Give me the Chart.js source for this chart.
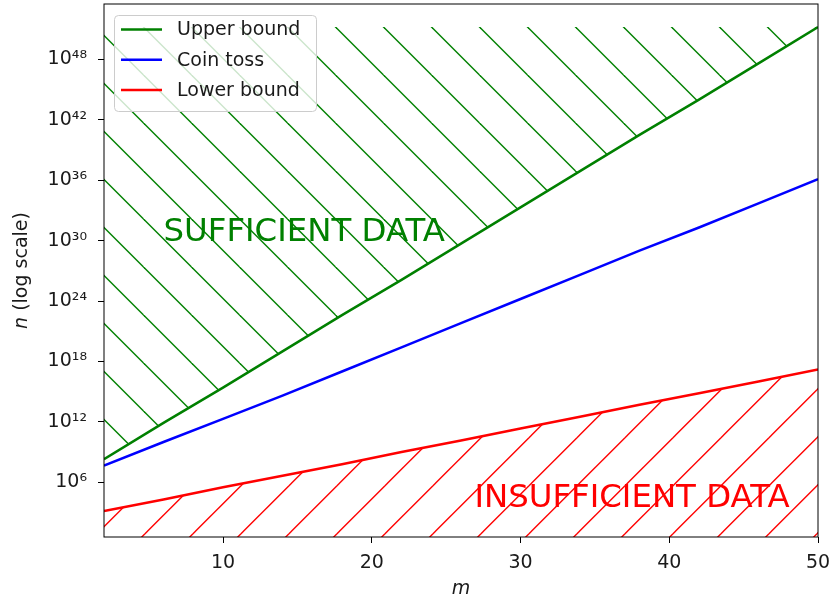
<!DOCTYPE html>
<html>
<head>
<meta charset="utf-8">
<script src="https://cdn.jsdelivr.net/npm/chart.js@4.4.1/dist/chart.umd.min.js"></script>
<style>
  html, body { margin: 0; padding: 0; background: #fff; }
  canvas { display: block; }
</style>
</head>
<body>
<canvas id="chart" width="829" height="600"></canvas>
<script>
const mValues = [2, 6, 10, 14, 18, 22, 26, 30, 34, 38, 42, 46, 50];
// exponents of n (n = 10^value)
const upperExp = [8.3, 11.9, 15.4, 19.0, 22.6, 26.1, 29.7, 33.3, 36.9, 40.5, 44.0, 47.6, 51.2];
const coinExp  = [7.65, 10.0, 12.3, 14.6, 17.0, 19.4, 21.8, 24.2, 26.6, 29.0, 31.3, 33.7, 36.1];
const lowerExp = [3.15, 4.3, 5.5, 6.65, 7.8, 9.0, 10.15, 11.35, 12.5, 13.7, 14.85, 16.0, 17.2];

const seriesLabels = ['Upper bound', 'Coin toss', 'Lower bound'];
const seriesColors = ['#008000', '#0000ff', '#ff0000'];

// tick labels
const xTicks = [10, 20, 30, 40, 50];
const yTickExps = [6, 12, 18, 24, 30, 36, 42, 48];

// region labels
const regionLabels = ['SUFFICIENT DATA', 'INSUFFICIENT DATA'];

const canvas = document.getElementById('chart');
const ctx = canvas.getContext('2d');

// hochgestellte Ziffern für die Log-Achse
const supDigits = { '0': '⁰', '1': '¹', '2': '²', '3': '³', '4': '⁴', '5': '⁵', '6': '⁶', '7': '⁷', '8': '⁸', '9': '⁹', '-': '⁻' };
function sup(n) {
    return String(n).split('').map(ch => supDigits[ch] || ch).join('');
}

// Schraffur als Canvas-Pattern (dir 'back' = \\ , 'fwd' = /)
function makeHatch(color, dir, offset) {
    const tile = document.createElement('canvas');
    tile.width = 48;
    tile.height = 48;
    const g = tile.getContext('2d');
    g.strokeStyle = color;
    g.lineWidth = 1.4;
    for (let k = -1; k <= 2; k++) {
        const c0 = offset + 48 * k;
        g.beginPath();
        if (dir === 'back') {
            g.moveTo(c0 - 6, -6);
            g.lineTo(c0 + 54, 54);
        } else {
            g.moveTo(c0 + 6, -6);
            g.lineTo(c0 - 54, 54);
        }
        g.stroke();
    }
    return ctx.createPattern(tile, 'repeat');
}

const greenHatch = makeHatch(seriesColors[0], 'back', 20.5);
const redHatch = makeHatch(seriesColors[2], 'fwd', 6.7);

function toPoints(exps) {
    return mValues.map((m, i) => ({ x: m, y: Math.pow(10, exps[i]) }));
}

// Rahmen, Texte, Legende und y-Titel
const extrasPlugin = {
    id: 'extras',
    afterDatasetsDraw(chart) {
        const c = chart.ctx;
        const area = chart.chartArea;
        const xs = chart.scales.x;
        const ys = chart.scales.y;

        // region labels
        c.save();
        c.font = '32.4px "DejaVu Sans"';
        c.textAlign = 'left';
        c.textBaseline = 'alphabetic';
        c.fillStyle = seriesColors[0];
        c.fillText(regionLabels[0], xs.getPixelForValue(6), ys.getPixelForValue(1e30));
        c.fillStyle = seriesColors[2];
        c.fillText(regionLabels[1], xs.getPixelForValue(26.9), ys.getPixelForValue(Math.pow(10, 3.5)));
        c.restore();

        // frame
        c.save();
        c.strokeStyle = '#000';
        c.lineWidth = 1;
        c.strokeRect(area.left, area.top, area.right - area.left, area.bottom - area.top);
        c.restore();

        // legend
        c.save();
        const lx = 114, ly = 15, lw = 202, lh = 96;
        c.beginPath();
        c.roundRect(lx + 0.5, ly + 0.5, lw, lh, 4);
        c.fillStyle = 'rgba(255,255,255,0.8)';
        c.fill();
        c.strokeStyle = '#cccccc';
        c.lineWidth = 1;
        c.stroke();
        c.font = '19px "DejaVu Sans"';
        c.textBaseline = 'middle';
        chart.data.datasets.forEach((ds, i) => {
            const yy = 29.5 + 30.3 * i;
            c.beginPath();
            c.strokeStyle = ds.borderColor;
            c.lineWidth = 2.5;
            c.moveTo(121, yy);
            c.lineTo(162, yy);
            c.stroke();
            c.fillStyle = '#1a1a1a';
            c.fillText(ds.label, 177, yy + 1);
        });
        c.restore();
    },
    afterDraw(chart) {
        // y axis title: italic n + (log scale)
        const c = chart.ctx;
        const area = chart.chartArea;
        c.save();
        c.translate(22, (area.top + area.bottom) / 2);
        c.rotate(-Math.PI / 2);
        c.textBaseline = 'middle';
        c.fillStyle = '#1a1a1a';
        c.font = 'italic 19px "DejaVu Sans"';
        const w1 = c.measureText('n').width;
        c.font = '19px "DejaVu Sans"';
        const w2 = c.measureText(' (log scale)').width;
        let x0 = -(w1 + w2) / 2;
        c.font = 'italic 19px "DejaVu Sans"';
        c.fillText('n', x0, 0);
        c.font = '19px "DejaVu Sans"';
        c.fillText(' (log scale)', x0 + w1, 0);
        c.restore();
    }
};

new Chart(canvas, {
    type: 'line',
    data: {
        datasets: [
            {
                label: seriesLabels[0],
                data: toPoints(upperExp),
                borderColor: seriesColors[0],
                borderWidth: 2.5,
                pointRadius: 0,
                backgroundColor: greenHatch,
                fill: { value: Math.pow(10, Math.max(...upperExp)) }
            },
            {
                label: seriesLabels[1],
                data: toPoints(coinExp),
                borderColor: seriesColors[1],
                borderWidth: 2.5,
                pointRadius: 0,
                fill: false
            },
            {
                label: seriesLabels[2],
                data: toPoints(lowerExp),
                borderColor: seriesColors[2],
                borderWidth: 2.5,
                pointRadius: 0,
                backgroundColor: redHatch,
                fill: 'start'
            }
        ]
    },
    options: {
        responsive: false,
        animation: false,
        layout: { padding: { left: 0, top: 4, right: 11, bottom: 0 } },
        plugins: {
            legend: { display: false },
            tooltip: { enabled: false }
        },
        scales: {
            x: {
                type: 'linear',
                min: 2,
                max: 50,
                afterBuildTicks: s => { s.ticks = xTicks.map(v => ({ value: v })); },
                afterFit: s => { s.height = 63; s.paddingLeft = 0; s.paddingRight = 0; },
                grid: { display: true, drawOnChartArea: false, drawTicks: true, tickLength: 6, color: '#000', lineWidth: 1 },
                border: { display: false },
                ticks: { color: '#1a1a1a', font: { family: 'DejaVu Sans', size: 19 }, padding: 9, maxRotation: 0 },
                title: { display: true, text: 'm', color: '#1a1a1a', font: { family: 'DejaVu Sans', size: 19, style: 'italic' }, padding: { top: 0, bottom: 0 } }
            },
            y: {
                type: 'logarithmic',
                min: Math.pow(10, 0.57),
                max: Math.pow(10, 53.49),
                afterBuildTicks: s => { s.ticks = yTickExps.map(e => ({ value: Math.pow(10, e) })); },
                afterFit: s => { s.width = 104; s.paddingTop = 0; s.paddingBottom = 0; },
                grid: { display: true, drawOnChartArea: false, drawTicks: true, tickLength: 6, color: '#000', lineWidth: 1 },
                border: { display: false },
                ticks: {
                    color: '#1a1a1a',
                    font: { family: 'DejaVu Sans', size: 19 },
                    padding: 11,
                    callback: v => '10' + sup(Math.round(Math.log10(v)))
                }
            }
        }
    },
    plugins: [extrasPlugin]
});
</script>
</body>
</html>
